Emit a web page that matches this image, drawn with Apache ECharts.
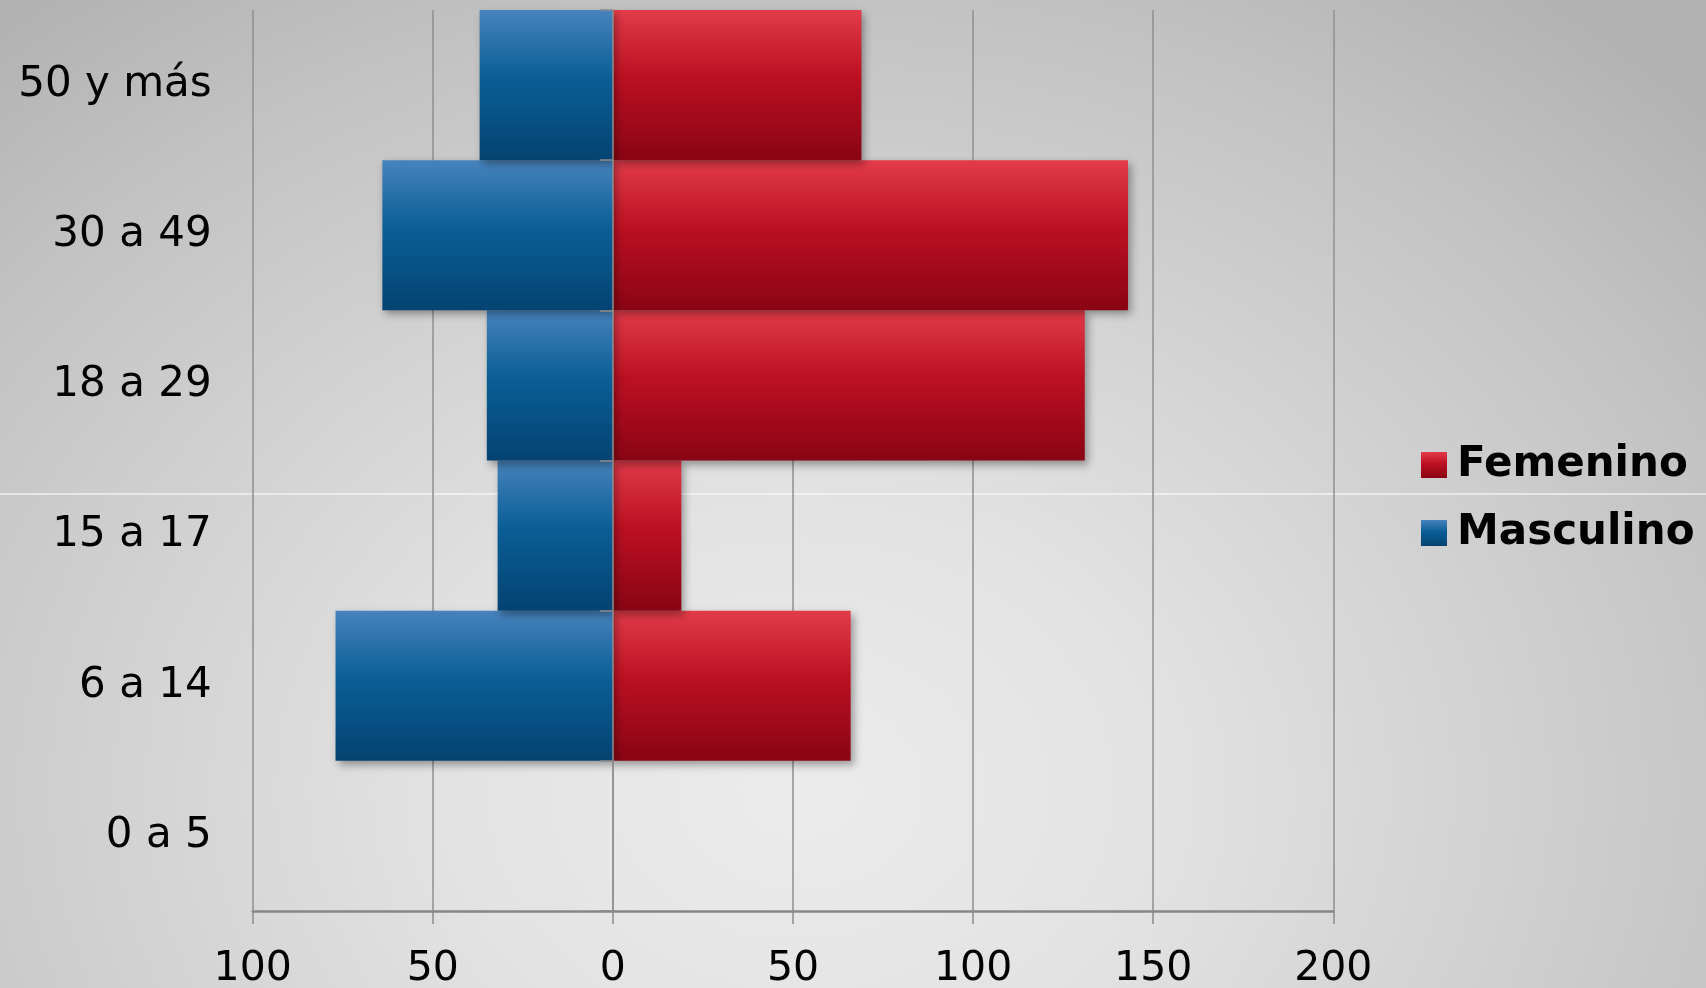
<!DOCTYPE html>
<html>
<head>
<meta charset="utf-8">
<script src="https://cdn.jsdelivr.net/npm/echarts@6/dist/echarts.min.js"></script>
<style>
  html, body { margin: 0; padding: 0; }
  #chart {
    width: 1706px; height: 988px;
    background: radial-gradient(ellipse 1250px 1000px at 800px 790px, #ececec 0%, #e3e3e3 28%, #d2d2d2 55%, #c2c2c2 80%, #b2b2b2 100%);
  }
</style>
</head>
<body>
<div id="chart"></div>
<script>
// Data (bottom to top, as drawn on the category axis)
const categories = ['0 a 5', '6 a 14', '15 a 17', '18 a 29', '30 a 49', '50 y más'];
const femenino = [0, 66, 19, 131, 143, 69];
const masculino = [0, 77, 32, 35, 64, 37];
const seriesNames = ['Femenino', 'Masculino'];
const valueMin = -100, valueMax = 200, valueStep = 50;

const chart = echarts.init(document.getElementById('chart'), null, { renderer: 'canvas' });

const blueGrad = new echarts.graphic.LinearGradient(0, 0, 0, 1, [
  { offset: 0, color: '#4783bd' },
  { offset: 0.45, color: '#0a5e96' },
  { offset: 1, color: '#044371' }
]);
const redGrad = new echarts.graphic.LinearGradient(0, 0, 0, 1, [
  { offset: 0, color: '#e23b49' },
  { offset: 0.45, color: '#bb1022' },
  { offset: 1, color: '#890413' }
]);

const font = 'DejaVu Sans, Verdana, sans-serif';

chart.setOption({
  backgroundColor: 'transparent',
  animation: false,
  graphic: [{
    type: 'line', z: 0, silent: true,
    shape: { x1: 0, y1: 494, x2: 1706, y2: 494 },
    style: { stroke: 'rgba(255,255,255,0.7)', lineWidth: 1.5 }
  }],
  grid: { left: 252.7, right: 372.7, top: 10, bottom: 77, containLabel: false, outerBoundsMode: 'none' },
  legend: {
    orient: 'vertical',
    left: 1416, top: 439,
    itemWidth: 26, itemHeight: 26,
    itemGap: 26,
    icon: 'rect',
    data: seriesNames,
    textStyle: { fontFamily: font, fontSize: 42, fontWeight: 'bold', color: '#000', lineHeight: 42, padding: [0, 0, 0, 5] }
  },
  xAxis: {
    type: 'value',
    min: valueMin, max: valueMax, interval: valueStep,
    axisLine: { show: true, onZero: false, lineStyle: { color: '#878787', width: 2.5 } },
    axisTick: { show: true, length: 13, lineStyle: { color: '#8a8a8a', width: 1.5 } },
    splitLine: { show: true, lineStyle: { color: '#8f8f8f', width: 1.5 } },
    axisLabel: {
      formatter: v => String(Math.abs(v)),
      fontFamily: font, fontSize: 41, color: '#000', margin: 36, lineHeight: 44
    }
  },
  yAxis: [{
    type: 'category',
    data: categories,
    axisLine: { show: false, onZero: false },
    axisTick: { show: false },
    axisLabel: { fontFamily: font, fontSize: 42, color: '#000', margin: 41, padding: [7, 0, 0, 0] }
  }, {
    type: 'category',
    data: categories,
    z: 4,
    axisLine: { show: true, onZero: true, lineStyle: { color: '#8f8f8f', width: 1.5 } },
    axisTick: { show: true, inside: true, length: 13, lineStyle: { color: '#8a8a8a', width: 1.5 } },
    axisLabel: { show: false }
  }],
  series: [{
    name: seriesNames[0],
    type: 'bar',
    yAxisIndex: 0,
    data: femenino,
    barCategoryGap: '0%',
    barGap: '-100%',
    z: 3,
    itemStyle: {
      color: redGrad,
      borderWidth: 0,
      shadowColor: 'rgba(0,0,0,0.35)', shadowBlur: 8, shadowOffsetX: 3, shadowOffsetY: 4
    }
  }, {
    name: seriesNames[1],
    type: 'bar',
    yAxisIndex: 0,
    data: masculino.map(v => -v),
    barCategoryGap: '0%',
    barGap: '-100%',
    z: 3,
    itemStyle: {
      color: blueGrad,
      borderWidth: 0,
      shadowColor: 'rgba(0,0,0,0.35)', shadowBlur: 8, shadowOffsetX: 3, shadowOffsetY: 4
    }
  }]
});
</script>
</body>
</html>
